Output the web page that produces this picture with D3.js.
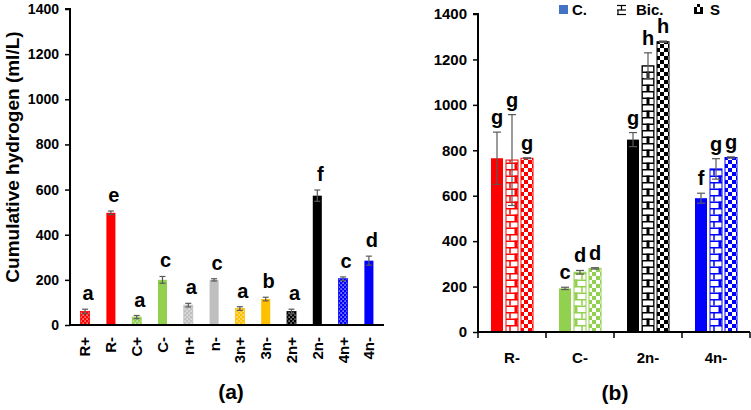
<!DOCTYPE html>
<html><head><meta charset="utf-8">
<script src="https://cdn.jsdelivr.net/npm/d3@7/dist/d3.min.js"></script>
<style>body{margin:0;background:#fff}svg{display:block}text{font-family:Arial,"Liberation Sans",sans-serif;font-weight:bold}</style>
</head><body><svg id="c" width="751" height="410"></svg>
<script>
// ---------- data ----------
const catsA = ["R+","R-","C+","C-","n+","n-","3n+","3n-","2n+","2n-","4n+","4n-"];
const valsA = [60,497,35,200,88,200,73,115,60,573,205,285];
const errsA = [10,8,7,15,8,5,8,8,10,25,8,20];
const lettersA = ["a","e","a","c","a","c","a","b","a","f","c","d"];
const colorsA = ["#ff0000","#ff0000","#92d050","#92d050","#bfbfbf","#bfbfbf","#ffc000","#ffc000","#000000","#000000","#0000ff","#0000ff"];
const dottedA = [true,false,true,false,true,false,true,false,true,false,true,false];

const groupsB = ["R-","C-","2n-","4n-"];
const seriesB = ["C.","Bic.","S"];
const valsC = [765,192,847,589];
const errsC = [115,5,31,22];
const valsBic = [757,263,1172,718];
const errsBic = [200,8,57,45];
const valsS = [765,280,1278,768];
const errsS = [2,3,3,3];
const lettersC = ["g","c","g","f"];
const lettersBic = ["g","d","h","g"];
const lettersS = ["g","d","h","g"];
const colorsB = ["#ff0000","#92d050","#000000","#0000ff"];
const yTicks = [0,200,400,600,800,1000,1200,1400];

// ---------- setup ----------
const svg = d3.select("#c");
const defs = svg.append("defs");
const uniq = Array.from(new Set(colorsA.concat(colorsB)));
const key = c => c.replace("#","");
uniq.forEach(c=>{
  const p = defs.append("pattern").attr("id","dot"+key(c)).attr("patternUnits","userSpaceOnUse").attr("width",4).attr("height",4);
  p.append("rect").attr("width",4).attr("height",4).attr("fill",c);
  p.append("rect").attr("x",0.5).attr("y",0.5).attr("width",1.2).attr("height",1.2).attr("fill","#fff");
  p.append("rect").attr("x",2.5).attr("y",2.5).attr("width",1.2).attr("height",1.2).attr("fill","#fff");
  const b = defs.append("pattern").attr("id","brk"+key(c)).attr("patternUnits","userSpaceOnUse").attr("width",12).attr("height",13);
  b.append("rect").attr("width",12).attr("height",13).attr("fill","#fff");
  const bl = [[0,0.75,12,0.75],[0,7.25,12,7.25],[6,0,6,6.5],[0.75,6.5,0.75,13],[11.25,6.5,11.25,13]];
  bl.forEach(l=>b.append("line").attr("x1",l[0]).attr("y1",l[1]).attr("x2",l[2]).attr("y2",l[3]).attr("stroke",c).attr("stroke-width",1.5));
  const k = defs.append("pattern").attr("id","chk"+key(c)).attr("patternUnits","userSpaceOnUse").attr("width",8).attr("height",8);
  k.append("rect").attr("width",8).attr("height",8).attr("fill","#fff");
  k.append("rect").attr("width",4).attr("height",4).attr("fill",c);
  k.append("rect").attr("x",4).attr("y",4).attr("width",4).attr("height",4).attr("fill",c);
});

// ---------- panel (a) ----------
const xA = d3.scaleBand().domain(catsA).range([70,384]).paddingInner(0.65).paddingOuter(0.41);
const yA = d3.scaleLinear().domain([0,1400]).range([325,9]);
const gA = svg.append("g");

gA.selectAll("rect.bar").data(catsA).join("rect").attr("class","bar")
  .attr("x",d=>xA(d)).attr("width",xA.bandwidth())
  .attr("y",(d,i)=>yA(valsA[i])).attr("height",(d,i)=>yA(0)-yA(valsA[i]))
  .attr("fill",(d,i)=>dottedA[i]?`url(#dot${key(colorsA[i])})`:colorsA[i])
  .attr("stroke",(d,i)=>dottedA[i]?colorsA[i]:"none").attr("stroke-width",0.8);

function errBars(g, xs, ys, vals, errs, cap){
  const eb = g.append("g").attr("stroke","#595959").attr("stroke-width",1.2);
  vals.forEach((v,i)=>{
    const x = xs[i];
    eb.append("line").attr("x1",x).attr("x2",x).attr("y1",ys(v-errs[i])).attr("y2",ys(v+errs[i]));
    eb.append("line").attr("x1",x-cap).attr("x2",x+cap).attr("y1",ys(v+errs[i])).attr("y2",ys(v+errs[i]));
    eb.append("line").attr("x1",x-cap).attr("x2",x+cap).attr("y1",ys(v-errs[i])).attr("y2",ys(v-errs[i]));
  });
}
errBars(gA, catsA.map(d=>xA(d)+xA.bandwidth()/2), yA, valsA, errsA, 3);

gA.selectAll("text.let").data(catsA).join("text").attr("class","let")
  .attr("x",d=>xA(d)+xA.bandwidth()/2+3).attr("y",(d,i)=>yA(valsA[i]+errsA[i])-9)
  .attr("text-anchor","middle").attr("font-size",20).text((d,i)=>lettersA[i]);

const axA = gA.append("g").attr("transform","translate(70,0)")
  .call(d3.axisLeft(yA).tickValues(yTicks).tickFormat(d3.format("d")).tickSize(5).tickPadding(6));
axA.select(".domain").attr("stroke-width",2).attr("d","M-5,"+yA(1400)+"H0V"+yA(0));
axA.selectAll(".tick line").attr("stroke-width",1.5);
axA.selectAll(".tick text").attr("font-size",14).attr("fill","#000");

const axAx = gA.append("g").attr("transform","translate(0,325)")
  .call(d3.axisBottom(xA).tickSize(0).tickPadding(0));
axAx.select(".domain").attr("stroke-width",2).attr("d","M69,0H384");
axAx.selectAll(".tick text").attr("font-size",15).attr("fill","#000")
  .attr("transform","rotate(-90)").attr("text-anchor","end").attr("x",-12).attr("y",0).attr("dy","0.36em");

svg.append("text").attr("transform","translate(19,157) rotate(-90)").attr("text-anchor","middle")
  .attr("font-size",19).text("Cumulative hydrogen (ml/L)");
svg.append("text").attr("x",231).attr("y",399).attr("text-anchor","middle").attr("font-size",21).text("(a)");

// ---------- panel (b) ----------
const xB = d3.scaleBand().domain(groupsB).range([478,750]);
const xS = d3.scaleBand().domain(seriesB).range([13,55]).paddingInner(0.2);
const yB = d3.scaleLinear().domain([0,1400]).range([332,14]);
const gB = svg.append("g");
const seriesData = [
  {vals:valsC, errs:errsC, lets:lettersC, fill:c=>c},
  {vals:valsBic, errs:errsBic, lets:lettersBic, fill:c=>`url(#brk${key(c)})`},
  {vals:valsS, errs:errsS, lets:lettersS, fill:c=>`url(#chk${key(c)})`}
];
seriesData.forEach((s,si)=>{
  const name = seriesB[si];
  const xs = groupsB.map(g=>xB(g)+xS(name)+xS.bandwidth()/2);
  gB.append("g").selectAll("rect").data(groupsB).join("rect")
    .attr("x",g=>xB(g)+xS(name)).attr("width",xS.bandwidth())
    .attr("y",(g,i)=>yB(s.vals[i])).attr("height",(g,i)=>yB(0)-yB(s.vals[i]))
    .attr("fill",(g,i)=>s.fill(colorsB[i]))
    .attr("stroke",(g,i)=>si>0?colorsB[i]:"none").attr("stroke-width",1);
  errBars(gB, xs, yB, s.vals, s.errs, 4);
  gB.append("g").selectAll("text").data(groupsB).join("text")
    .attr("x",(g,i)=>xs[i]).attr("y",(g,i)=>yB(s.vals[i]+s.errs[i])-8)
    .attr("text-anchor","middle").attr("font-size",20).text((g,i)=>s.lets[i]);
});

const axB = gB.append("g").attr("transform","translate(478,0)")
  .call(d3.axisLeft(yB).tickValues(yTicks).tickFormat(d3.format("d")).tickSize(5).tickPadding(6));
axB.select(".domain").attr("stroke-width",2).attr("d","M-5,"+yB(1400)+"H0V"+yB(0));
axB.selectAll(".tick line").attr("stroke-width",1.5);
axB.selectAll(".tick text").attr("font-size",15).attr("fill","#000");

const axBx = gB.append("g").attr("transform","translate(0,332)")
  .call(d3.axisBottom(xB).tickSize(0).tickPadding(20));
axBx.select(".domain").attr("stroke-width",2).attr("d","M477,0H750");
axBx.selectAll(".tick text").attr("font-size",15).attr("fill","#000");
const bounds = groupsB.map(g=>xB(g)).concat([xB.range()[1]]);
gB.append("g").selectAll("line").data(bounds).join("line")
  .attr("x1",d=>d).attr("x2",d=>d).attr("y1",332).attr("y2",338).attr("stroke","#000").attr("stroke-width",1.5);

svg.append("text").attr("x",615).attr("y",400).attr("text-anchor","middle").attr("font-size",21).text("(b)");

// legend
const lg = svg.append("g");
const legX = [559,617,694];
lg.append("rect").attr("x",legX[0]).attr("y",5).attr("width",9).attr("height",9).attr("fill","#4472c4");
const bi = lg.append("g").attr("stroke","#000").attr("stroke-width",1.2);
[[0,5.5,9,5.5],[0,10,9,10],[0,14.5,9,14.5],[4.5,5.5,4.5,10],[1,10,1,14.5]].forEach(l=>
  bi.append("line").attr("x1",legX[1]+l[0]).attr("y1",l[1]).attr("x2",legX[1]+l[2]).attr("y2",l[3]));
const sIcon = lg.append("g");
[[0,7],[3,4],[6,7],[3,10]].forEach(p=>sIcon.append("rect").attr("x",legX[2]+p[0]).attr("y",p[1]).attr("width",3).attr("height",3).attr("fill","#000"));
sIcon.append("rect").attr("x",legX[2]).attr("y",10).attr("width",9).attr("height",4).attr("fill","#000");
sIcon.append("rect").attr("x",legX[2]+3).attr("y",10).attr("width",3).attr("height",2).attr("fill","#fff");
lg.selectAll("text").data(seriesB).join("text")
  .attr("x",(d,i)=>legX[i]+(i===0?13:i===1?19:16)).attr("y",15).attr("font-size",15).text(d=>d);
</script></body></html>
